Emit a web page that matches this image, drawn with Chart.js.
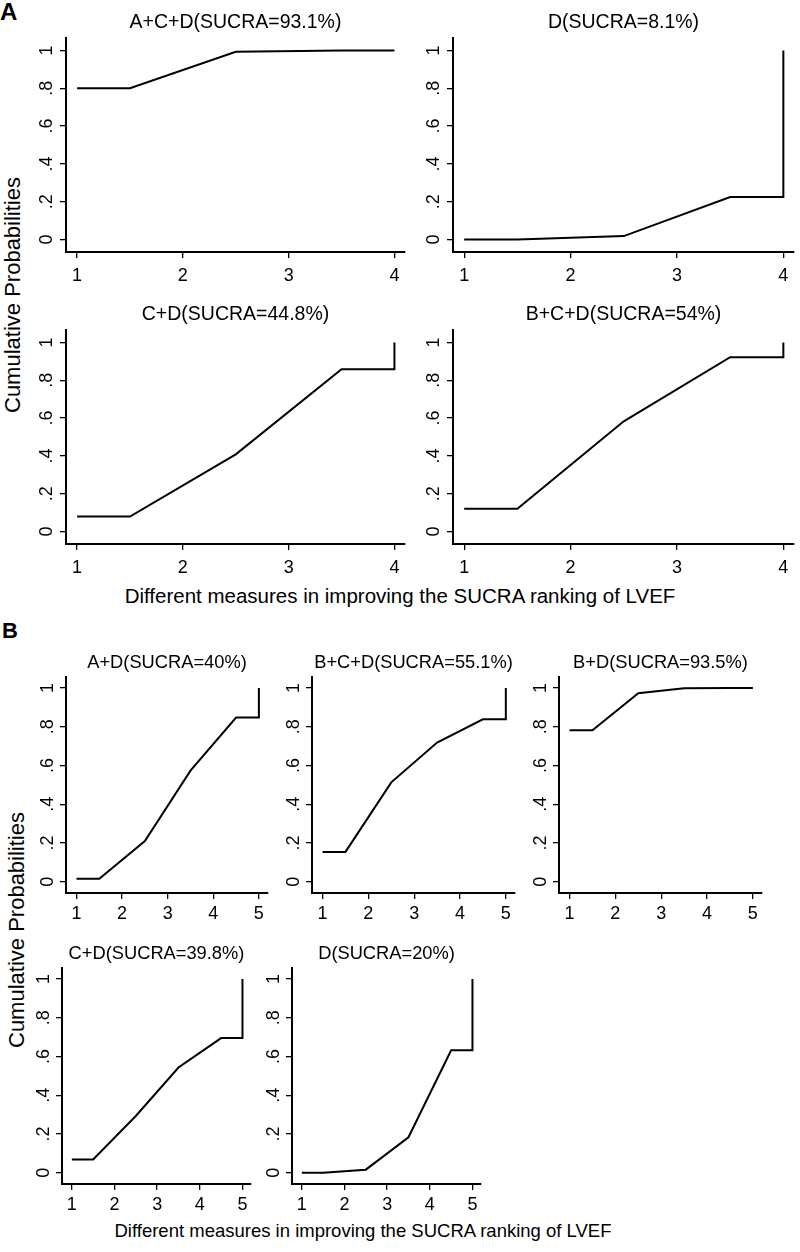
<!DOCTYPE html>
<html>
<head>
<meta charset="utf-8">
<script src="https://cdn.jsdelivr.net/npm/chart.js@4.4.1/dist/chart.umd.min.js"></script>
<style>
  body { margin: 0; background: #fff; }
  #page { position: relative; width: 800px; height: 1252px; overflow: hidden;
          font-family: "Liberation Sans", Arial, sans-serif; color: #000; }
  #page canvas { position: absolute; }
  .lbl { position: absolute; white-space: nowrap; line-height: 1; }
  .tag { font-weight: bold; }
  .ctr { transform: translate(-50%, -50%); }
  .rot { transform: translate(-50%, -50%) rotate(-90deg); }
</style>
</head>
<body>
<div id="page">
  <div class="lbl tag" style="left:0;top:0;font-size:24px">A</div>
  <div class="lbl tag" style="left:2px;top:620px;font-size:22px">B</div>

  <div class="lbl rot" style="left:13px;top:295px;font-size:22px">Cumulative Probabilities</div>
  <div class="lbl ctr" style="left:400px;top:596px;font-size:20.5px">Different measures in improving the SUCRA ranking of LVEF</div>

  <div class="lbl rot" style="left:17px;top:930px;font-size:22px">Cumulative Probabilities</div>
  <div class="lbl ctr" style="left:363px;top:1231px;font-size:18.5px">Different measures in improving the SUCRA ranking of LVEF</div>
</div>
<script>
const FONT = '"Liberation Sans", Arial, sans-serif';

// ranks on the x axis, probability ticks on the y axis (Stata style labels)
const ranksA = [1, 2, 3, 4];
const ranksB = [1, 2, 3, 4, 5];
const probTicks = [0, 0.2, 0.4, 0.6, 0.8, 1];
const probTickLabels = ['0', '.2', '.4', '.6', '.8', '1'];

// A: cumulative probability of being ranked 1st..4th
const titlesA = ['A+C+D(SUCRA=93.1%)', 'D(SUCRA=8.1%)', 'C+D(SUCRA=44.8%)', 'B+C+D(SUCRA=54%)'];
const cumA_ACD = [0.80, 0.993, 1.0, 1.0];
const cumA_D   = [0.0, 0.018, 0.225, 1.0];
const cumA_CD  = [0.079, 0.408, 0.858, 1.0];
const cumA_BCD = [0.121, 0.583, 0.922, 1.0];

// B: cumulative probability of being ranked 1st..5th
const titlesB = ['A+D(SUCRA=40%)', 'B+C+D(SUCRA=55.1%)', 'B+D(SUCRA=93.5%)', 'C+D(SUCRA=39.8%)', 'D(SUCRA=20%)'];
const cumB_AD  = [0.015, 0.21, 0.573, 0.847, 1.0];
const cumB_BCD = [0.154, 0.513, 0.718, 0.838, 1.0];
const cumB_BD  = [0.782, 0.973, 0.998, 1.0, 1.0];
const cumB_CD  = [0.069, 0.293, 0.543, 0.695, 1.0];
const cumB_D   = [0.0, 0.016, 0.183, 0.632, 1.0];

// plot boxes: [axis left, axis top, width, height]
const boxesA = [[66, 38, 339, 214], [453, 38, 341, 214], [66, 330, 339, 214], [453, 330, 341, 214]];
const boxesB = [[66, 677, 202, 216], [312, 677, 203, 216], [559, 677, 203, 216], [62, 968, 189, 216], [292, 968, 189, 216]];

const styleA = { titleSize: 19.5, titlePad: 5.5, tickSize: 18, xPad: 7, yPad: 5.5,
                 xMin: 0.895, xMax: 4.1, yMin: -0.066, yMax: 1.066 };
const styleB = { titleSize: 18.3, titlePad: 5, tickSize: 18, xPad: 4, yPad: 4.5,
                 xMin: 0.77, xMax: 5.2, yMin: -0.058, yMax: 1.055 };

// sucra-style curve: flat to 1.5, segments through k+.5, jump to 1 at last rank
function stepCurve(cum) {
  const n = cum.length;
  const pts = [{ x: 1, y: cum[0] }];
  for (let k = 0; k < n - 1; k++) pts.push({ x: k + 1.5, y: cum[k] });
  pts.push({ x: n, y: cum[n - 2] });
  pts.push({ x: n, y: cum[n - 1] });
  return pts;
}

const page = document.getElementById('page');

function drawPanel(box, st, title, cum, ranks) {
  const [left, top, w, h] = box;
  const yW = 40, xH = 44, padR = 10;
  const titleH = st.titleSize + st.titlePad;
  const cv = document.createElement('canvas');
  cv.width = yW + w + padR;
  cv.height = Math.round(titleH + h + xH);
  cv.style.left = (left - yW) + 'px';
  cv.style.top = (top - titleH) + 'px';
  page.appendChild(cv);

  const axisGrid = { drawOnChartArea: false, drawTicks: true, tickLength: 6, color: '#000', lineWidth: 1.3 };
  const axisBorder = { display: true, color: '#000', width: 2 };

  new Chart(cv.getContext('2d'), {
    type: 'line',
    data: {
      datasets: [{
        data: stepCurve(cum),
        borderColor: '#000',
        borderWidth: 2,
        pointRadius: 0,
        tension: 0,
        fill: false
      }]
    },
    options: {
      responsive: false,
      animation: false,
      devicePixelRatio: 1,
      layout: { padding: { left: 0, top: 0, right: padR, bottom: 0 } },
      plugins: {
        legend: { display: false },
        tooltip: { enabled: false },
        title: {
          display: true,
          text: title,
          fullSize: false,
          color: '#000',
          font: { family: FONT, size: st.titleSize, weight: 'normal', lineHeight: 1 },
          padding: { top: 0, bottom: st.titlePad }
        }
      },
      scales: {
        x: {
          type: 'linear',
          min: st.xMin,
          max: st.xMax,
          afterBuildTicks: s => { s.ticks = ranks.map(v => ({ value: v })); },
          afterFit: s => { s.height = xH; },
          grid: axisGrid,
          border: axisBorder,
          ticks: {
            color: '#000',
            font: { family: FONT, size: st.tickSize },
            padding: st.xPad,
            maxRotation: 0,
            autoSkip: false,
            callback: v => String(v)
          }
        },
        y: {
          type: 'linear',
          min: st.yMin,
          max: st.yMax,
          afterBuildTicks: s => { s.ticks = probTicks.map(v => ({ value: v })); },
          afterFit: s => { s.width = yW; },
          grid: axisGrid,
          border: axisBorder,
          ticks: {
            color: '#000',
            font: { family: FONT, size: st.tickSize },
            padding: st.yPad,
            minRotation: 90,
            maxRotation: 90,
            crossAlign: 'center',
            autoSkip: false,
            callback: (v, i) => probTickLabels[i]
          }
        }
      }
    }
  });
}

const seriesA = [cumA_ACD, cumA_D, cumA_CD, cumA_BCD];
const seriesB = [cumB_AD, cumB_BCD, cumB_BD, cumB_CD, cumB_D];

seriesA.forEach((cum, i) => drawPanel(boxesA[i], styleA, titlesA[i], cum, ranksA));
seriesB.forEach((cum, i) => drawPanel(boxesB[i], styleB, titlesB[i], cum, ranksB));
</script>
</body>
</html>
